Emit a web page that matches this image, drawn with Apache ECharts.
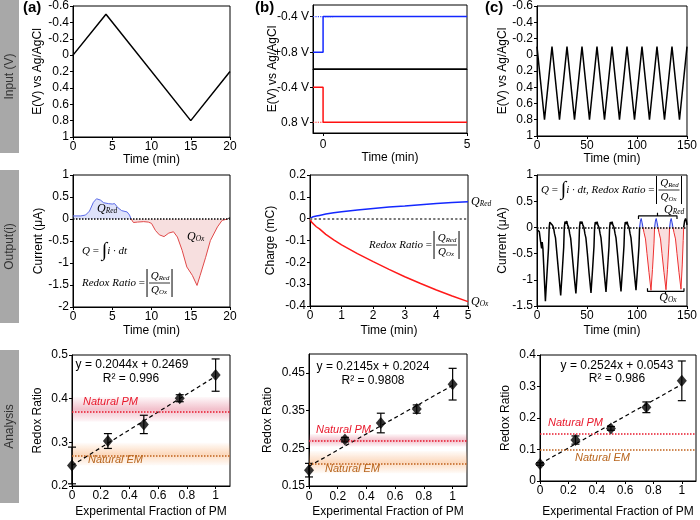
<!DOCTYPE html>
<html><head><meta charset="utf-8">
<script src="https://cdn.jsdelivr.net/npm/echarts@6/dist/echarts.min.js"></script>
<style>html,body{margin:0;padding:0;background:#fff}#c{width:700px;height:520px}</style>
</head><body><div id="c"></div>
<script>
// ---------------- DATA ----------------
// Row 1: input potentials
const inputA = [[0,0],[4.2,-0.5],[15,0.8],[20,0.2]];
const stepBlue = [[-0.35,0.8],[0,0.8],[0,-0.4],[5,-0.4]];
const stepRed = [[-0.35,-0.4],[0,-0.4],[0,0.8],[5,0.8]];
const stepBlueDot = [[-0.35,-0.4],[0.35,-0.4]];
const stepRedDot = [[-0.35,0.8],[0,0.8]];
const inputC = [[0,-0.1],[7.5,0.8],[15,-0.1],[22.5,0.8],[30,-0.1],[37.5,0.8],[45,-0.1],[52.5,0.8],[60,-0.1],[67.5,0.8],[75,-0.1],[82.5,0.8],[90,-0.1],[97.5,0.8],[105,-0.1],[112.5,0.8],[120,-0.1],[127.5,0.8],[135,-0.1],[142.5,0.8],[150,-0.1]];
// Row 2: outputs
const currA_red_q = [[0,0.07],[1,0.07],[1.6,0.09],[2.1,0.18],[2.6,0.38],[3,0.46],[3.5,0.43],[3.9,0.37],[4.5,0.35],[5,0.34],[5.3,0.35],[5.7,0.26],[6.2,0.19],[6.9,0.16],[7.2,0.09],[7.4,0]];
const currA_ox_q = [[7.4,0],[7.7,-0.08],[8.2,-0.07],[9,-0.06],[9.6,-0.07],[10,-0.1],[10.5,-0.26],[11,-0.36],[11.6,-0.4],[12.2,-0.32],[12.8,-0.29],[13.3,-0.41],[13.9,-0.71],[14.5,-1.09],[15.2,-1.28],[15.8,-1.51],[16.2,-1.28],[16.9,-0.87],[17.5,-0.49],[18.4,-0.18],[19,-0.03],[19.7,0]];
const currA_tail = [[19.7,0],[20,0.04]];
const chargeT = [0,0.05,0.1,0.2,0.3,0.5,0.75,1,1.5,2,2.5,3,3.5,4,4.5,5];
const chargeRed = [0,0.006,0.009,0.012,0.015,0.021,0.027,0.032,0.04,0.047,0.053,0.058,0.064,0.07,0.074,0.078];
const chargeOx = [0,-0.016,-0.024,-0.037,-0.047,-0.072,-0.097,-0.12,-0.16,-0.197,-0.232,-0.266,-0.297,-0.327,-0.354,-0.38];
const currC_black = [[0,-0.04],[1.5,-0.06],[2.3,-0.08],[3.6,-0.27],[4.6,-0.4],[5.2,-0.28],[5.9,-0.4],[6.9,-0.8],[8.4,-1.41],
 [10,-0.88],[11.5,-0.4],[12.2,0],[12.8,0.1],[13.7,0.07],[14.6,0.1],[15.5,0.04],[16.5,0],[17.5,-0.12],[18.5,-0.2],[20,-0.52],[21.8,-0.9],[23.7,-1.3],
 [25.2,-0.85],[26.7,-0.38],[27.3,0],[28,0.11],[28.9,0.07],[29.8,0.12],[30.7,0.04],[31.7,0],[32.7,-0.12],[33.7,-0.21],[35.2,-0.52],[37,-0.9],[38.9,-1.26],
 [40.4,-0.83],[41.9,-0.37],[42.5,0],[43.2,0.11],[44.1,0.07],[45,0.11],[45.9,0.04],[46.9,0],[47.9,-0.12],[48.9,-0.2],[50.4,-0.5],[52.1,-0.88],[54,-1.25],
 [55.5,-0.82],[57,-0.36],[57.6,0],[58.3,0.1],[59.2,0.06],[60.1,0.11],[61,0.04],[62,0],[63,-0.11],[64,-0.2],[65.5,-0.5],[67.2,-0.87],[69,-1.23],
 [70.5,-0.81],[72,-0.36],[72.6,0],[73.3,0.1],[74.2,0.06],[75.1,0.11],[76,0.04],[77,0],[78,-0.11],[79,-0.2],[80.5,-0.5],[82.2,-0.86],[84,-1.22],
 [85.5,-0.8],[87,-0.35],[87.6,0],[88.3,0.1],[89.2,0.06],[90.1,0.11],[91,0.04],[92,0],[93,-0.11],[94,-0.2],[95.5,-0.5],[97.2,-0.85],[99,-1.2],
 [100.5,-0.8],[102,-0.35],[102.6,0]];
const currC_redq = [[102.6,0],[103.4,0.12],[104.2,0.17],[105,0.1],[106,0],[106.5,'-'],
 [117.6,0],[118.4,0.12],[119.2,0.17],[120,0.1],[121,0],[121.5,'-'],
 [132.6,0],[133.4,0.12],[134.2,0.17],[135,0.1],[136,0]];
const currC_oxq = [[106,0],[107,-0.1],[108.5,-0.22],[110,-0.5],[112,-0.86],[114,-1.2],[115.5,-0.8],[117,-0.3],[117.6,0],[117.8,'-'],
 [121,0],[122,-0.1],[123.5,-0.22],[125,-0.5],[127,-0.86],[129,-1.19],[130.5,-0.8],[132,-0.3],[132.6,0],[132.8,'-'],
 [136,0],[137,-0.1],[138.5,-0.22],[140,-0.5],[142,-0.86],[144,-1.18],[145.3,-0.7],[146.2,-0.25],[146.7,0]];
const currC_tail = [[146.7,0],[147.6,0.12],[148.6,0.17],[149.3,0.13],[150,0.05]];
const bracketRedC = [[101.5,0.16],[101.5,0.22],[120.5,0.22],[120.5,0.28],[120.5,0.22],[140,0.22],[140,0.16]];
const bracketOxC = [[110.5,-1.16],[110.5,-1.22],[128.5,-1.22],[128.5,-1.28],[128.5,-1.22],[147,-1.22],[147,-1.16]];
// Row 3: analysis
const fracPM = [0, 0.25, 0.5, 0.75, 1];
const ratioA = [0.247, 0.303, 0.341, 0.401, 0.454];
const errA = [0.042, 0.017, 0.021, 0.008, 0.037];
const ratioB = [0.192, 0.273, 0.317, 0.354, 0.42];
const errB = [0.018, 0.006, 0.026, 0.011, 0.042];
const ratioC = [0.054, 0.13, 0.167, 0.234, 0.318];
const errC = [0.004, 0.013, 0.006, 0.017, 0.063];
const fitX = [0, 1];
const fitA = [0.2469, 0.4513];
const fitB = [0.2024, 0.4169];
const fitC = [0.0543, 0.3067];
const naturalA = {pm: 0.374, pmBand: [0.347, 0.404], em: 0.274, emBand: [0.247, 0.299]};
const naturalB = {pm: 0.272, pmBand: [0.254, 0.288], em: 0.214, emBand: [0.183, 0.243]};
const naturalC = {pm: 0.149, em: 0.104};
const eqText = ['y = 0.2044x + 0.2469', 'y = 0.2145x + 0.2024', 'y = 0.2524x + 0.0543'];
const r2Text = ['R² = 0.996', 'R² = 0.9808', 'R² = 0.986'];
const xTicksFrac = [0, 0.2, 0.4, 0.6, 0.8, 1];
const yTicksB3 = [0.15, 0.25, 0.35, 0.45];

// ---------------- HELPERS ----------------
const FONT = '"Liberation Sans", Arial, sans-serif';
const SERIF = '"Liberation Serif", "Times New Roman", serif';
const zip = (a, b) => a.map((v, i) => [v, b[i]]);
const zip3 = (a, b, c) => a.map((v, i) => [v, b[i], c[i]]);
const cv = document.createElement('canvas').getContext('2d');
function tw(s, font) { cv.font = font; return cv.measureText(s).width; }

const grids = [
  {left:73, top:5, width:157, height:132},   //0 A1
  {left:313, top:5, width:154, height:64},   //1 B1 top
  {left:313, top:69, width:154, height:64},  //2 B1 bottom
  {left:537, top:5, width:153, height:131},  //3 C1
  {left:73, top:175, width:157, height:132}, //4 A2
  {left:310, top:175, width:158, height:131},//5 B2
  {left:537, top:175, width:153, height:131},//6 C2
  {left:72, top:355, width:158, height:131}, //7 A3
  {left:309, top:354, width:158, height:132},//8 B3
  {left:540, top:355, width:156, height:126} //9 C3
].map(g => Object.assign({show:true, borderColor:'#000', borderWidth:1, backgroundColor:'transparent', containLabel:false}, g));

function ax(o) {
  const a = {
    type:'value', gridIndex:o.g, min:o.min, max:o.max, inverse:!!o.inverse,
    name:o.name || '', nameLocation:'middle', nameGap:o.gap || 20,
    nameTextStyle:{fontSize:12, color:'#000', fontFamily:FONT},
    axisLine:{show:true, onZero:false, lineStyle:{color:'#000', width:1}},
    axisTick:{show:o.ticks !== false, length:3, lineStyle:{color:'#000'}},
    axisLabel:{show:o.labels !== false, fontSize:12, color:'#000', fontFamily:FONT, margin:o.margin || 4},
    splitLine:{show:false}
  };
  if (o.interval !== undefined) a.interval = o.interval;
  if (o.cv) { a.axisLabel.customValues = o.cv; a.axisTick.customValues = o.cv; }
  if (o.fmt) a.axisLabel.formatter = o.fmt;
  return a;
}
const fmt1 = v => String(+(+v).toFixed(2));

const xAxes = [
  ax({g:0, min:0, max:20, interval:5, name:'Time (min)', gap:17}),
  ax({g:1, min:-0.35, max:5, labels:false, ticks:false}),
  ax({g:2, min:-0.35, max:5, cv:[0,5], name:'Time (min)', gap:14, margin:6}),
  ax({g:3, min:0, max:150, interval:50, name:'Time (min)', gap:17}),
  ax({g:4, min:0, max:20, interval:5, name:'Time (min)', gap:18}),
  ax({g:5, min:0, max:5, interval:1, name:'Time (min)', gap:19}),
  ax({g:6, min:0, max:150, interval:50, name:'Time (min)', gap:19}),
  ax({g:7, min:0, max:1.1, cv:xTicksFrac, fmt:fmt1, name:'Experimental Fraction of PM', gap:20}),
  ax({g:8, min:0, max:1.1, cv:xTicksFrac, fmt:fmt1, name:'Experimental Fraction of PM', gap:20, margin:5}),
  ax({g:9, min:0, max:1.1, cv:xTicksFrac, fmt:fmt1, name:'Experimental Fraction of PM', gap:25})
];
const yAxes = [
  ax({g:0, min:-0.6, max:1, interval:0.2, inverse:true, name:'E(V) vs Ag/AgCl', gap:29}),
  ax({g:1, min:-0.79, max:1.36, inverse:true, cv:[-0.4,0.8], fmt:v => (+v > 0 ? '+' : '') + (+v).toFixed(1) + ' V'}),
  ax({g:2, min:-1.03, max:1.17, inverse:true, cv:[-0.4,0.8], fmt:v => (+v).toFixed(1) + ' V'}),
  ax({g:3, min:-0.6, max:1, interval:0.2, inverse:true, name:'E(V) vs Ag/AgCl', gap:27}),
  ax({g:4, min:-2, max:1, interval:0.5, name:'Current (μA)', gap:28}),
  ax({g:5, min:-0.4, max:0.2, interval:0.1, fmt:fmt1, name:'Charge (mC)', gap:33}),
  ax({g:6, min:-1.5, max:1, interval:0.5, name:'Current (μA)', gap:27}),
  ax({g:7, min:0.2, max:0.5, interval:0.1, fmt:fmt1, name:'Redox Ratio', gap:28}),
  ax({g:8, min:0.15, max:0.5, cv:yTicksB3, fmt:fmt1, name:'Redox Ratio', gap:35}),
  ax({g:9, min:0, max:0.4, interval:0.1, fmt:fmt1, name:'Redox Ratio', gap:28})
];

function line(idx, data, color, extra) {
  return Object.assign({type:'line', xAxisIndex:idx, yAxisIndex:idx, data, symbol:'none', showSymbol:false,
    lineStyle:{color, width:1.5}, itemStyle:{color}, animation:false, silent:true, z:3}, extra || {});
}
function zeroLine(color, width) {
  return {symbol:['none','none'], silent:true, animation:false, label:{show:false},
    lineStyle:{type:'dotted', color, width}, data:[{yAxis:0}]};
}
function band(rgb, lo, hi, a) {
  return [{yAxis:lo, itemStyle:{color:new echarts.graphic.LinearGradient(0,0,0,1,[
    {offset:0, color:`rgba(${rgb},0.03)`},{offset:0.5, color:`rgba(${rgb},${a})`},{offset:1, color:`rgba(${rgb},0.03)`}])}}, {yAxis:hi}];
}
const PMC = '#e8192c', EMC = '#b8651d';
function analysis(idx, ratio, err, fit, nat, bands) {
  const ml = {symbol:['none','none'], silent:true, animation:false, label:{show:false}, data:[
    {yAxis:nat.pm, lineStyle:{type:'dotted', color:PMC, width:1.5}},
    {yAxis:nat.em, lineStyle:{type:'dotted', color:'#c0601a', width:1.5}}]};
  const out = [
    line(idx, zip(fitX, fit), '#000', {lineStyle:{color:'#000', width:1.2, type:[4,3]}, markLine:ml,
      markArea: bands ? {silent:true, animation:false, data:[band('215,60,95', nat.pmBand[0], nat.pmBand[1], 0.32), band('248,165,100', nat.emBand[0], nat.emBand[1], 0.42)]} : undefined}),
    {type:'custom', xAxisIndex:idx, yAxisIndex:idx, data:zip3(fracPM, ratio, err), encode:{x:0, y:1}, z:4, animation:false, silent:true,
      renderItem(params, api) {
        const x = api.value(0), y = api.value(1), e = api.value(2);
        const p1 = api.coord([x, y + e]), p2 = api.coord([x, y - e]);
        const hw = 4, st = {stroke:'#000', lineWidth:1.2};
        return {type:'group', children:[
          {type:'line', shape:{x1:p1[0], y1:p1[1], x2:p2[0], y2:p2[1]}, style:st},
          {type:'line', shape:{x1:p1[0]-hw, y1:p1[1], x2:p1[0]+hw, y2:p1[1]}, style:st},
          {type:'line', shape:{x1:p2[0]-hw, y1:p2[1], x2:p2[0]+hw, y2:p2[1]}, style:st}]};
      }},
    {type:'scatter', xAxisIndex:idx, yAxisIndex:idx, data:zip(fracPM, ratio), symbol:'diamond', symbolSize:[10,12],
      itemStyle:{color:'#000'}, z:5, animation:false, silent:true}
  ];
  return out;
}

const series = [
  line(0, inputA, '#000'),
  line(1, stepBlueDot, '#3a4cff', {lineStyle:{color:'#3a4cff', width:1.2, type:'dotted'}}),
  line(1, stepBlue, '#1428ff'),
  line(2, stepRedDot, '#ff3030', {lineStyle:{color:'#ff3030', width:1.2, type:'dotted'}}),
  line(2, stepRed, '#ff1010'),
  line(3, inputC, '#000'),
  line(4, currA_red_q, '#5a6ae8', {lineStyle:{color:'#5a6ae8', width:1}, areaStyle:{color:'rgba(120,135,235,0.35)'}}),
  line(4, currA_ox_q, '#e04848', {lineStyle:{color:'#e04848', width:1}, areaStyle:{color:'rgba(220,110,110,0.32)'}}),
  line(4, currA_tail, '#333', {lineStyle:{color:'#333', width:1}, markLine:zeroLine('#000', 1.5)}),
  line(5, zip(chargeT, chargeRed), '#1428ff', {markLine:zeroLine('#777', 2.2)}),
  line(5, zip(chargeT, chargeOx), '#ff1a1a'),
  line(6, currC_black, '#000', {markLine:zeroLine('#000', 1.5)}),
  line(6, currC_redq, '#2a3ae0', {lineStyle:{color:'#2a3ae0', width:1}, areaStyle:{color:'rgba(110,130,240,0.4)'}}),
  line(6, currC_oxq, '#ee3030', {lineStyle:{color:'#ee3030', width:1}, areaStyle:{color:'rgba(230,120,120,0.35)'}}),
  line(6, currC_tail, '#000'),
  line(6, bracketRedC, '#000', {lineStyle:{color:'#000', width:1.2}}),
  line(6, bracketOxC, '#000', {lineStyle:{color:'#000', width:1.2}}),
  ...analysis(7, ratioA, errA, fitA, naturalA, true),
  ...analysis(8, ratioB, errB, fitB, naturalB, true),
  ...analysis(9, ratioC, errC, fitC, naturalC, false)
];

// ---------------- GRAPHIC ANNOTATIONS ----------------
const G = [];
function T(x, y, text, o) {
  o = o || {};
  G.push({type:'text', x, y, rotation:o.rot || 0, z:100, silent:true, style:{text, fill:o.fill || '#000',
    fontSize:o.fs || 12, fontFamily:o.ff || FONT, fontStyle:o.it ? 'italic' : 'normal', fontWeight:o.bold ? 'bold' : 'normal',
    align:o.align || 'left', verticalAlign:'middle'}});
}
function Q(x, y, sub, align, fs) {
  fs = fs || 12;
  G.push({type:'text', x, y, z:100, silent:true, style:{text:'{q|Q}{s|' + sub + '}', align:align || 'left', verticalAlign:'middle',
    rich:{q:{fontSize:fs, fontStyle:'italic', fontFamily:SERIF, fill:'#000', lineHeight:fs},
          s:{fontSize:fs * 0.62, fontStyle:'italic', fontFamily:SERIF, fill:'#000', lineHeight:fs * 0.5, verticalAlign:'bottom'}}}});
}
function L(x1, y1, x2, y2, w) {
  G.push({type:'line', z:100, silent:true, shape:{x1, y1, x2, y2}, style:{stroke:'#000', lineWidth:w || 1}});
}
function formula(x, y, segs, frac) {
  let str = '', w = 0; const rich = {};
  segs.forEach((s, i) => {
    const st = s.it === false ? 'normal' : 'italic';
    rich['s' + i] = {fontSize:s.fs, fontStyle:st, fontFamily:SERIF, fill:'#000'};
    str += '{s' + i + '|' + s.t + '}';
    w += tw(s.t, st + ' ' + s.fs + 'px ' + SERIF);
  });
  G.push({type:'text', x, y, z:100, silent:true, style:{text:str, rich, align:'left', verticalAlign:'middle'}});
  if (frac) {
    const x0 = x + w + 2;
    L(x0, y - 14, x0, y + 14, 1);
    Q(x0 + 13, y - 7, 'Red', 'center', 11);
    L(x0 + 2, y, x0 + 23, y, 0.8);
    Q(x0 + 12, y + 7, 'Ox', 'center', 11);
    L(x0 + 25, y - 14, x0 + 25, y + 14, 1);
  }
}
// side boxes
[[0, 153, 'Input (V)'], [170, 153, 'Output(i)'], [350, 153, 'Analysis']].forEach(([y, h, t]) => {
  G.push({type:'rect', z:1, silent:true, shape:{x:0, y, width:19, height:h}, style:{fill:'#a8a8a8'}});
  T(10, y + h / 2, t, {rot:Math.PI / 2, align:'center', fill:'#333', fs:12});
});
// panel letters
T(23, 8, '(a)', {bold:true, fs:15});
T(255, 8, '(b)', {bold:true, fs:15});
T(485, 8, '(c)', {bold:true, fs:15});
// B1 y name
T(273, 69, 'E(V) vs Ag/AgCl', {rot:Math.PI / 2, align:'center'});
// middle (a)
Q(97, 209, 'Red', 'left', 12);
Q(187, 237, 'Ox', 'left', 12);
formula(82, 251, [{t:'Q', fs:11}, {t:' = ', fs:11, it:false}, {t:'∫', fs:20, it:false}, {t:'i · dt', fs:11}], false);
formula(82, 283, [{t:'Redox Ratio', fs:11}, {t:' =', fs:11, it:false}], true);
// middle (b)
formula(369, 245, [{t:'Redox Ratio', fs:11}, {t:' =', fs:11, it:false}], true);
Q(471, 202, 'Red', 'left', 12);
Q(471, 302, 'Ox', 'left', 12);
// middle (c)
formula(541, 190, [{t:'Q', fs:11}, {t:' = ', fs:11, it:false}, {t:'∫', fs:20, it:false}, {t:'i · dt, Redox Ratio', fs:11}, {t:' =', fs:11, it:false}], true);
Q(664, 210, 'Red', 'left', 12);
Q(668, 298, 'Ox', 'center', 12);
// analysis texts
const eqPos = [[132, 365, 131, 379], [373, 367, 373, 381], [617, 366, 617, 379]];
eqPos.forEach((p, i) => { T(p[0], p[1], eqText[i], {align:'center'}); T(p[2], p[3], r2Text[i], {align:'center'}); });
T(83, 402, 'Natural PM', {it:true, fill:PMC, fs:11});
T(88, 460, 'Natural EM', {it:true, fill:EMC, fs:11});
T(316, 430, 'Natural PM', {it:true, fill:PMC, fs:11});
T(325, 469, 'Natural EM', {it:true, fill:EMC, fs:11});
T(548, 423, 'Natural PM', {it:true, fill:PMC, fs:11});
T(575, 458, 'Natural EM', {it:true, fill:EMC, fs:11});

const chart = echarts.init(document.getElementById('c'), null, {renderer:'canvas'});
chart.setOption({
  animation:false,
  textStyle:{fontFamily:FONT},
  grid:grids, xAxis:xAxes, yAxis:yAxes, series, graphic:{elements:G}
});
</script></body></html>
